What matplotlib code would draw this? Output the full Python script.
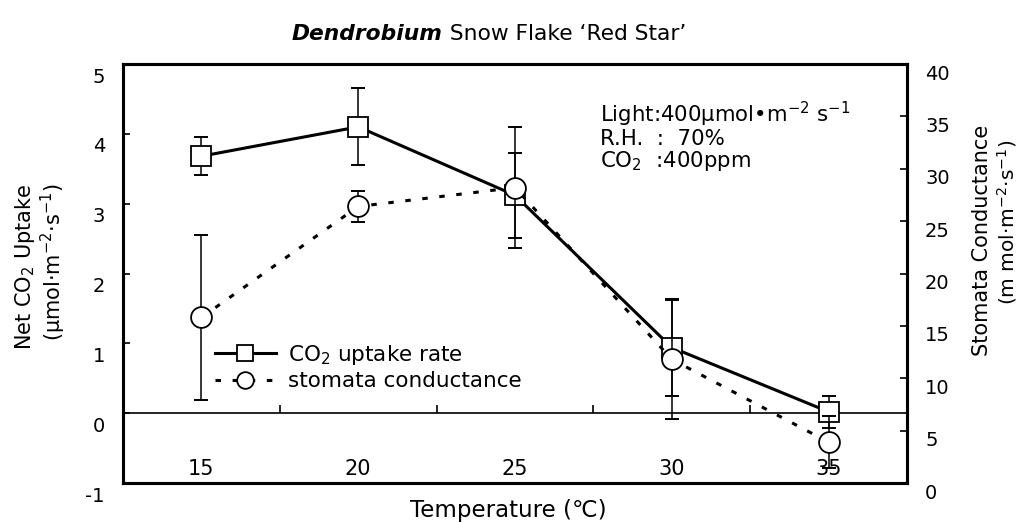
import matplotlib
matplotlib.use("Agg")
import matplotlib.pyplot as plt
from matplotlib.transforms import ScaledTranslation

plt.rcParams["font.family"] = ["DejaVu Sans"]
plt.rcParams["mathtext.default"] = "regular"

# data
temps = [15, 20, 25, 30, 35]
co2_uptake = [3.68, 4.10, 3.12, 0.94, 0.02]
co2_err = [0.27, 0.55, 0.61, 0.70, 0.23]
conductance = [15.8, 26.4, 28.2, 11.8, 3.9]
cond_err = [7.9, 1.5, 5.8, 5.7, 2.5]

left_ticks = [-1, 0, 1, 2, 3, 4, 5]
right_ticks = [0, 5, 10, 15, 20, 25, 30, 35, 40]
boundary_ticks = [17.5, 22.5, 27.5, 32.5]

fig = plt.figure(figsize=(10.2, 5.22), dpi=100)
ax = fig.add_axes([123 / 1020, 1 - 483 / 522, 784 / 1020, 419 / 522])
ax2 = ax.twinx()

# CO2 uptake on the left axis
ax.errorbar(temps, co2_uptake, yerr=co2_err, fmt="none", ecolor="black",
            elinewidth=1.1, capsize=5, capthick=1.4, zorder=2)
l1, = ax.plot(temps, co2_uptake, color="black", lw=2.2, marker="s", ms=15,
              mfc="white", mec="black", mew=1.3, zorder=3,
              label="CO$_2$ uptake rate")

# stomata conductance on the right axis
ax2.errorbar(temps, conductance, yerr=cond_err, fmt="none", ecolor="black",
             elinewidth=1.1, capsize=5, capthick=1.4, zorder=2)
l2, = ax2.plot(temps, conductance, color="black", lw=2.2,
               linestyle=(0, (1.8, 3.8)), marker="o", ms=15, mfc="white",
               mec="black", mew=1.3, zorder=3, label="stomata conductance")

ax.set_xlim(12.5, 37.5)
ax.set_ylim(-1, 5)
ax2.set_ylim(0, 40)

for s in list(ax.spines.values()) + list(ax2.spines.values()):
    s.set_linewidth(2.2)

# x labels sit inside the box, under the zero line
ax.set_xticks([])
for t in temps:
    ax.text(t, -0.88, str(t), ha="center", va="baseline", fontsize=15)

# zero line with category boundary ticks
sec = ax.secondary_xaxis(0, transform=ax.transData)
sec.set_xticks(boundary_ticks)
sec.set_xticklabels([])
sec.tick_params(direction="in", length=6, width=1.2)
sec.spines["bottom"].set_linewidth(1.2)
sec.spines["top"].set_linewidth(1.2)

ax.set_yticks(left_ticks)
ax.set_yticklabels([str(v) for v in left_ticks])
ax.tick_params(axis="y", direction="in", length=5, width=1.2, pad=13, labelsize=14)
ax2.set_yticks(right_ticks)
ax2.set_yticklabels([str(v) for v in right_ticks])
ax2.tick_params(axis="y", direction="in", length=5, width=1.2, pad=13, labelsize=14)

# the labels sit a little below their ticks in the original
off_l = ScaledTranslation(0, -11 / 100, fig.dpi_scale_trans)
for lbl in ax.get_yticklabels():
    lbl.set_transform(lbl.get_transform() + off_l)
off_r = ScaledTranslation(0, -8 / 100, fig.dpi_scale_trans)
for lbl in ax2.get_yticklabels():
    lbl.set_transform(lbl.get_transform() + off_r)

# legend
ax2.legend(handles=[l1, l2], loc="center left", bbox_to_anchor=(0.104, 0.277),
           frameon=False, fontsize=15.5, handlelength=2.8, handletextpad=0.6,
           labelspacing=0.2, markerscale=0.8, borderpad=0)

# measurement conditions
ax2.text(0.609, 0.914, "Light:400μmol•m$^{-2}$ s$^{-1}$\nR.H.  :  70%\nCO$_2$  :400ppm",
         transform=ax.transAxes, ha="left", va="top", fontsize=15.3, linespacing=1.0)

# title: italic genus name followed by cultivar
t1 = fig.text(292 / 1020, 1 - 40 / 522, "Dendrobium", fontsize=15.7,
              fontweight="bold", fontstyle="italic", ha="left", va="baseline")
ax.annotate(" Snow Flake ‘Red Star’", xy=(1, 0), xycoords=t1,
            ha="left", va="bottom", fontsize=15.7, annotation_clip=False)

# axis labels
fig.text(25 / 1020, 1 - 267 / 522, "Net CO$_2$ Uptake", rotation=90,
         ha="center", va="center", fontsize=15)
fig.text(53 / 1020, 1 - 262 / 522, "(μmol·m$^{-2}$·s$^{-1}$)", rotation=90,
         ha="center", va="center", fontsize=15)
fig.text(982 / 1020, 1 - 240 / 522, "Stomata Conductance", rotation=90,
         ha="center", va="center", fontsize=15)
fig.text(1007 / 1020, 1 - 222 / 522, "(m mol·m$^{-2}$·s$^{-1}$)", rotation=90,
         ha="center", va="center", fontsize=14.5)
fig.text(508 / 1020, 1 - 511 / 522, "Temperature (℃)", ha="center", va="center",
         fontsize=16.5)

fig.savefig("out.png", dpi=100)
